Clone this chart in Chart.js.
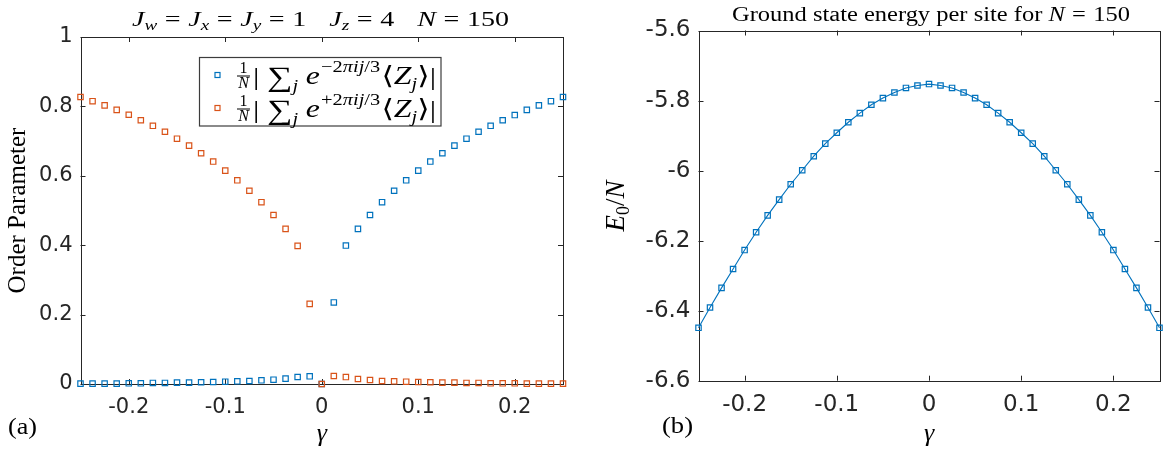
<!DOCTYPE html>
<html><head><meta charset="utf-8">
<script src="https://cdn.jsdelivr.net/npm/chart.js@4.4.1/dist/chart.umd.min.js"></script>
<style>
html,body{margin:0;padding:0;background:#fff;}
#wrap{position:relative;width:1170px;height:454px;overflow:hidden;background:#fff;}
#pa{position:absolute;left:0;top:0;width:580px;height:454px;}
#pb{position:absolute;left:580px;top:0;width:590px;height:454px;}
</style></head><body>
<div id="wrap"><div id="pa"><canvas id="ca" width="580" height="454"></canvas></div><div id="pb"><canvas id="cb" width="590" height="454"></canvas></div></div>
<script>
// ---- data ----
const gammaValues = [-0.25,-0.2375,-0.225,-0.2125,-0.2,-0.1875,-0.175,-0.1625,-0.15,-0.1375,-0.125,-0.1125,-0.1,-0.0875,-0.075,-0.0625,-0.05,-0.0375,-0.025,-0.0125,0,0.0125,0.025,0.0375,0.05,0.0625,0.075,0.0875,0.1,0.1125,0.125,0.1375,0.15,0.1625,0.175,0.1875,0.2,0.2125,0.225,0.2375,0.25];
const orderMinus = [0.001,0.001,0.001,0.001,0.002,0.002,0.003,0.003,0.004,0.004,0.005,0.0058,0.0067,0.0077,0.0087,0.0106,0.0125,0.0154,0.0202,0.0221,0.000,0.235,0.399,0.447,0.487,0.524,0.557,0.587,0.615,0.641,0.665,0.687,0.707,0.727,0.744,0.760,0.775,0.790,0.803,0.815,0.827];
const orderPlus = [0.827,0.815,0.803,0.790,0.776,0.760,0.744,0.727,0.707,0.687,0.665,0.641,0.615,0.587,0.557,0.524,0.487,0.447,0.398,0.231,0.000,0.023,0.020,0.0144,0.0115,0.0087,0.0077,0.0067,0.0058,0.005,0.004,0.004,0.003,0.003,0.002,0.002,0.002,0.001,0.001,0.001,0.001];
const energyPerSite = [-6.449,-6.391,-6.335,-6.281,-6.227,-6.176,-6.128,-6.083,-6.039,-5.999,-5.959,-5.923,-5.892,-5.862,-5.836,-5.812,-5.793,-5.777,-5.764,-5.757,-5.753,-5.757,-5.764,-5.777,-5.793,-5.812,-5.836,-5.862,-5.892,-5.923,-5.959,-5.999,-6.039,-6.083,-6.128,-6.176,-6.227,-6.281,-6.335,-6.391,-6.449];
const xTickValues = [-0.2,-0.1,0,0.1,0.2];
const xTickLabels = ['-0.2','-0.1','0','0.1','0.2'];
const orderTickValues = [0,0.2,0.4,0.6,0.8,1];
const orderTickLabels = ['0','0.2','0.4','0.6','0.8','1'];
const energyTickValues = [-6.6,-6.4,-6.2,-6,-5.8,-5.6];
const energyTickLabels = ['-6.6','-6.4','-6.2','-6','-5.8','-5.6'];

const BLUE = '#0072BD', ORANGE = '#D95319', AX = '#262626';
const SERIF = '"Liberation Serif","DejaVu Serif",serif';
const f = (sz, it) => (it ? 'italic ' : '') + sz + 'px ' + SERIF;

// ---- text helpers ----
function runsWidth(ctx, runs){ let w=0; for(const r of runs){ if(r.g){w+=r.g;continue;} ctx.font=r.f; w+=ctx.measureText(r.t).width; } return w; }
function drawRuns(ctx, runs, x, y, sx){ ctx.save(); ctx.translate(x,y); ctx.scale(sx||1,1); ctx.textAlign='left'; ctx.textBaseline='alphabetic'; let cx=0; for(const r of runs){ if(r.g){cx+=r.g;continue;} ctx.font=r.f; ctx.fillText(r.t,cx,r.dy||0); cx+=ctx.measureText(r.t).width; } ctx.restore(); }
function fitRuns(ctx, runs, x0, x1, y){ const w=runsWidth(ctx,runs); drawRuns(ctx,runs,x0,y,(x1-x0)/w); }

function toPairs(ys){ return gammaValues.map((g,i)=>({x:g,y:ys[i]})); }

// ---- decoration plugin: box, inward ticks, titles, labels, legend ----
const decor = {
  id:'decor',
  beforeDatasetsDraw(chart, args, o){
    const ctx=chart.ctx, a=chart.chartArea, sx=chart.scales.x, sy=chart.scales.y;
    ctx.save();
    ctx.strokeStyle=AX; ctx.lineWidth=1;
    ctx.strokeRect(Math.round(a.left)+0.5, Math.round(a.top)+0.5, Math.round(a.right)-Math.round(a.left), Math.round(a.bottom)-Math.round(a.top));
    const tl=o.tick;
    ctx.beginPath();
    for(const v of o.xt){ const p=Math.round(sx.getPixelForValue(v))+0.5; ctx.moveTo(p,a.bottom); ctx.lineTo(p,a.bottom-tl); ctx.moveTo(p,a.top); ctx.lineTo(p,a.top+tl); }
    for(const v of o.yt){ const p=Math.round(sy.getPixelForValue(v))+0.5; ctx.moveTo(a.left,p); ctx.lineTo(a.left+tl,p); ctx.moveTo(a.right,p); ctx.lineTo(a.right-tl,p); }
    ctx.stroke();
    ctx.restore();
  },
  afterDraw(chart, args, o){
    const ctx=chart.ctx, a=chart.chartArea;
    ctx.save(); ctx.fillStyle='#000';
    const cx=(a.left+a.right)/2;
    if(o.kind==='a'){
      const M=f(22,true), R=f(22,false), S=f(15,true), q={g:6};
      const title=[{t:'J',f:M},{t:'w',f:S,dy:4},q,{t:'=',f:R},q,{t:'J',f:M},{t:'x',f:S,dy:4},q,{t:'=',f:R},q,{t:'J',f:M},{t:'y',f:S,dy:4},q,{t:'=',f:R},q,{t:'1',f:R},{g:18},{t:'J',f:M},{t:'z',f:S,dy:4},q,{t:'=',f:R},q,{t:'4',f:R},{g:18},{t:'N',f:M},q,{t:'=',f:R},q,{t:'150',f:R}];
      fitRuns(ctx,title,132,509,26);
      // y label
      ctx.save(); ctx.translate(25,210.5); ctx.rotate(-Math.PI/2); ctx.font=f(25,false); ctx.textAlign='center'; ctx.textBaseline='alphabetic'; ctx.fillText('Order Parameter',0,0); ctx.restore();
      // x label
      ctx.font=f(26,true); ctx.textAlign='center'; ctx.fillText('\u03B3',cx,441); ctx.textAlign='left';
      fitRuns(ctx,[{t:'(a)',f:f(23,false)}],8,37,434);
      // legend
      const L={x0:199.5,y0:57.5,x1:441,y1:126};
      ctx.fillStyle='#fff'; ctx.fillRect(L.x0,L.y0,L.x1-L.x0,L.y1-L.y0);
      ctx.strokeStyle='#3c3c3c'; ctx.lineWidth=1.2; ctx.strokeRect(L.x0,L.y0,L.x1-L.x0,L.y1-L.y0);
      const items=[{c:BLUE,s:'\u22122',y:84},{c:ORANGE,s:'+2',y:117}];
      for(const it of items){
        ctx.strokeStyle=it.c; ctx.lineWidth=1.2; ctx.strokeRect(215,it.y-11.5,5,5);
        ctx.fillStyle='#000';
        ctx.font=f(16,false); ctx.textAlign='center'; ctx.fillText('1',243.5,it.y-11);
        ctx.font=f(16,true); ctx.fillText('N',243.5,it.y+4);
        ctx.fillRect(237,it.y-8.5,13,1);
        ctx.textAlign='left';
        const runs=[{t:'|',f:f(25,false),dy:1},{g:6},{t:'\u2211',f:f(28,false),dy:2},{t:'j',f:f(16,true),dy:7},{g:6},{t:'e',f:f(25,true)},{g:1},{t:it.s,f:f(16,false),dy:-12},{t:'\u03C0',f:f(16,true),dy:-12},{t:'ij',f:f(16,true),dy:-12},{t:'/3',f:f(16,false),dy:-12},{g:1},{t:'\u27E8',f:f(25,false)},{t:'Z',f:f(25,true)},{t:'j',f:f(16,true),dy:5},{t:'\u27E9',f:f(25,false)},{t:'|',f:f(25,false),dy:1}];
        fitRuns(ctx,runs,253,436,it.y);
      }
    } else {
      const R=f(20,false), M=f(20,true);
      const title=[{t:'Ground state energy per site for ',f:R},{t:'N',f:M},{g:6},{t:'=',f:R},{g:6},{t:'150',f:R}];
      fitRuns(ctx,title,152,550,21);
      ctx.save(); ctx.translate(44,206); ctx.rotate(-Math.PI/2);
      const yl=[{t:'E',f:f(27,true)},{t:'0',f:f(18,false),dy:5},{t:'/',f:f(27,false)},{t:'N',f:f(27,true)}];
      const w=runsWidth(ctx,yl); drawRuns(ctx,yl,-w/2,0,1); ctx.restore();
      ctx.font=f(26,true); ctx.textAlign='center'; ctx.fillText('\u03B3',cx,441); ctx.textAlign='left';
      fitRuns(ctx,[{t:'(b)',f:f(23,false)}],82,113,433);
    }
    ctx.restore();
  }
};

function xScale(h, fs, pad){
  return {type:'linear',min:-0.25,max:0.25,
    afterBuildTicks:s=>{s.ticks=xTickValues.map(v=>({value:v}));},
    afterFit:s=>{s.height=h;s.paddingLeft=0;s.paddingRight=0;},
    grid:{display:false,drawTicks:false},border:{display:false},
    ticks:{font:{family:'DejaVu Sans',size:fs},color:AX,padding:pad,maxRotation:0,minRotation:0,autoSkip:false,
      callback:v=>xTickLabels[xTickValues.indexOf(v)]}};
}
function yScale(min,max,vals,labels,w,fs){
  return {type:'linear',min,max,
    afterBuildTicks:s=>{s.ticks=vals.map(v=>({value:v}));},
    afterFit:s=>{s.width=w;s.paddingTop=0;s.paddingBottom=0;},
    grid:{display:false,drawTicks:false},border:{display:false},
    ticks:{font:{family:'DejaVu Sans',size:fs},color:AX,padding:8,autoSkip:false,
      callback:v=>labels[vals.indexOf(v)]}};
}
const common={responsive:false,animation:false,events:[],
  plugins:{legend:{display:false},tooltip:{enabled:false},title:{display:false}}};

new Chart(document.getElementById('ca'),{
  type:'scatter',
  data:{datasets:[
    {label:'plus',data:toPairs(orderPlus),showLine:false,pointStyle:'rect',pointRadius:3.8,pointBorderWidth:1.2,pointBorderColor:ORANGE,pointBackgroundColor:'rgba(255,255,255,0)',clip:false},
    {label:'minus',data:toPairs(orderMinus),showLine:false,pointStyle:'rect',pointRadius:3.8,pointBorderWidth:1.2,pointBorderColor:BLUE,pointBackgroundColor:'rgba(255,255,255,0)',clip:false}
  ]},
  options:Object.assign({},common,{
    layout:{padding:{left:0,right:17,top:37,bottom:0}},
    scales:{x:xScale(70,21,11),y:yScale(0,1,orderTickValues,orderTickLabels,80.5,21)},
    plugins:Object.assign({},common.plugins,{decor:{kind:'a',tick:5,xt:xTickValues,yt:orderTickValues}})
  }),
  plugins:[decor]
});

new Chart(document.getElementById('cb'),{
  type:'scatter',
  data:{datasets:[
    {label:'E0/N',data:toPairs(energyPerSite),showLine:true,borderColor:BLUE,borderWidth:1.1,pointStyle:'rect',pointRadius:3.8,pointBorderWidth:1.2,pointBorderColor:BLUE,pointBackgroundColor:'rgba(255,255,255,0)',clip:false}
  ]},
  options:Object.assign({},common,{
    layout:{padding:{left:0,right:10.5,top:30.5,bottom:0}},
    scales:{x:xScale(73.3,23,10.5),y:yScale(-6.6,-5.6,energyTickValues,energyTickLabels,118.5,23)},
    plugins:Object.assign({},common.plugins,{decor:{kind:'b',tick:5,xt:xTickValues,yt:energyTickValues}})
  }),
  plugins:[decor]
});
</script>
</body></html>
